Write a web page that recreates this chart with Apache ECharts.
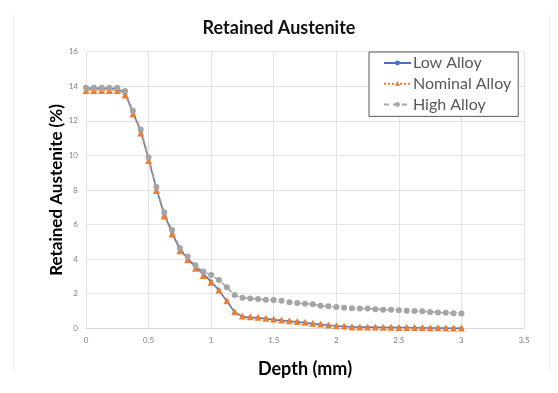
<!DOCTYPE html>
<html>
<head>
<meta charset="utf-8">
<script src="https://cdn.jsdelivr.net/npm/echarts@6/dist/echarts.min.js"></script>
<style>html,body{margin:0;padding:0;background:#fff;}#c{width:558px;height:393px;}</style>
</head>
<body>
<div id="c"></div>
<script>
// Depth (mm): 49 points, step 1/16 mm
var depth = [0,0.0625,0.125,0.1875,0.25,0.3125,0.375,0.4375,0.5,0.5625,0.625,0.6875,0.75,0.8125,0.875,0.9375,1,1.0625,1.125,1.1875,1.25,1.3125,1.375,1.4375,1.5,1.5625,1.625,1.6875,1.75,1.8125,1.875,1.9375,2,2.0625,2.125,2.1875,2.25,2.3125,2.375,2.4375,2.5,2.5625,2.625,2.6875,2.75,2.8125,2.875,2.9375,3];
var lowAlloy = [13.85,13.85,13.85,13.85,13.85,13.6,12.5,11.4,9.8,8.07,6.6,5.55,4.55,4.05,3.55,3.15,2.7,2.2,1.58,0.93,0.67,0.63,0.6,0.55,0.5,0.45,0.41,0.37,0.32,0.27,0.22,0.17,0.13,0.11,0.08,0.07,0.06,0.06,0.05,0.05,0.04,0.04,0.03,0.03,0.02,0.02,0.01,0.01,0.01];
var nominalAlloy = [13.75,13.75,13.75,13.75,13.75,13.5,12.4,11.3,9.7,7.97,6.5,5.45,4.48,3.97,3.47,3.05,2.66,2.21,1.6,0.96,0.71,0.67,0.64,0.58,0.54,0.48,0.44,0.4,0.35,0.29,0.25,0.19,0.15,0.13,0.09,0.08,0.07,0.07,0.06,0.06,0.05,0.05,0.04,0.04,0.03,0.03,0.02,0.02,0.02];
var highAlloy = [13.92,13.92,13.92,13.92,13.92,13.72,12.58,11.5,9.9,8.17,6.72,5.68,4.65,4.15,3.64,3.29,3.08,2.79,2.37,1.92,1.77,1.73,1.69,1.65,1.64,1.6,1.5,1.46,1.42,1.39,1.31,1.27,1.23,1.19,1.16,1.14,1.14,1.1,1.08,1.08,1.04,1.02,1.0,0.98,0.94,0.92,0.9,0.87,0.85];
var seriesNames = ['Low Alloy','Nominal Alloy','High Alloy'];

function pairs(xs, ys){ return xs.map(function(x,i){ return [x, ys[i]]; }); }

var FONT = 'Lato, "Open Sans", sans-serif';
var chart = echarts.init(document.getElementById('c'), null, {renderer:'canvas'});
chart.setOption({
  animation:false,
  backgroundColor:'#fff',
  textStyle:{fontFamily:FONT},
  title:{
    text:'Retained Austenite', left:'center', top:14,
    textStyle:{fontFamily:FONT, fontSize:18, fontWeight:'bold', color:'#111'}
  },
  graphic:[
    {type:'line', shape:{x1:13.5,y1:15,x2:13.5,y2:372}, style:{stroke:'#f0f0f0', lineWidth:1}, silent:true},
    {type:'line', shape:{x1:549.5,y1:15,x2:549.5,y2:372}, style:{stroke:'#f0f0f0', lineWidth:1}, silent:true}
  ],
  grid:{left:86, right:34, top:51.7, bottom:64.7, containLabel:false},
  legend:{
    orient:'vertical', left:369, top:52,
    backgroundColor:'#fff', borderColor:'#595959', borderWidth:1, borderRadius:0,
    padding:[3,7,4,14], itemWidth:27, itemHeight:6, itemGap:4.7,
    textStyle:{fontFamily:FONT, fontSize:16, color:'#595959', padding:[0,0,0,-3]},
    data:seriesNames
  },
  xAxis:{
    type:'value', min:0, max:3.5, interval:0.5,
    name:'Depth (mm)', nameLocation:'middle', nameGap:32, nameMoveOverlap:false,
    nameTextStyle:{fontFamily:FONT, fontSize:18, fontWeight:'bold', color:'#000'},
    axisLine:{show:true, lineStyle:{color:'#d9d9d9', width:1}},
    axisTick:{show:false},
    axisLabel:{fontSize:8, color:'#808080', margin:8, fontFamily:FONT},
    splitLine:{show:true, lineStyle:{color:'#e3e3e3', width:1}}
  },
  yAxis:{
    type:'value', min:0, max:16, interval:2,
    name:'Retained Austenite (%)', nameLocation:'middle', nameGap:21, nameMoveOverlap:false,
    nameTextStyle:{fontFamily:FONT, fontSize:17, fontWeight:'bold', color:'#000'},
    axisLine:{show:true, lineStyle:{color:'#e3e3e3', width:1}},
    axisTick:{show:false},
    axisLabel:{fontSize:8, color:'#808080', margin:8, fontFamily:FONT},
    splitLine:{show:true, lineStyle:{color:'#e3e3e3', width:1}}
  },
  series:[
    {name:seriesNames[0], type:'line', data:pairs(depth, lowAlloy),
     symbol:'circle', symbolSize:4, showAllSymbol:true,
     lineStyle:{color:'#4472C4', width:1.5}, itemStyle:{color:'#4472C4'}},
    {name:seriesNames[1], type:'line', data:pairs(depth, nominalAlloy),
     symbol:'triangle', symbolSize:7, showAllSymbol:true,
     lineStyle:{color:'#ED7D31', width:1, type:'dotted'}, itemStyle:{color:'#ED7D31'}},
    {name:seriesNames[2], type:'line', data:pairs(depth, highAlloy),
     symbol:'circle', symbolSize:6, showAllSymbol:true,
     lineStyle:{color:'#A5A5A5', width:1.5, type:[5,4]}, itemStyle:{color:'#A5A5A5'}}
  ]
});
</script>
</body>
</html>
